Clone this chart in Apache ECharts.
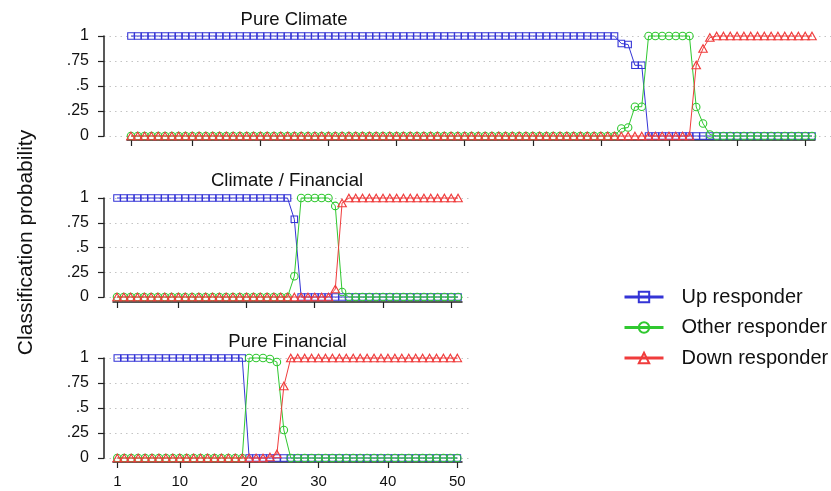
<!DOCTYPE html>
<html><head><meta charset="utf-8">
<script src="https://cdn.jsdelivr.net/npm/echarts@6/dist/echarts.min.js"></script>
<style>html,body{margin:0;padding:0;background:#fff}#c{width:831px;height:491px}</style>
</head><body><div id="c"></div>
<script>
const panelTitles = ['Pure Climate', 'Climate / Financial', 'Pure Financial'];
const seriesNames = ['Up responder', 'Other responder', 'Down responder'];
const yAxisTitle = 'Classification probability';
const yTickValues = [0, 0.25, 0.5, 0.75, 1];
const yTickLabels = ['0', '.25', '.5', '.75', '1'];
const xTicksTop = [1, 10, 20, 30, 40, 50, 60, 70, 80, 90, 100];
const xTicksLower = [1, 10, 20, 30, 40, 50];

const xClimate = [1,2,3,4,5,6,7,8,9,10,11,12,13,14,15,16,17,18,19,20,21,22,23,24,25,26,27,28,29,30,31,32,33,34,35,36,37,38,39,40,41,42,43,44,45,46,47,48,49,50,51,52,53,54,55,56,57,58,59,60,61,62,63,64,65,66,67,68,69,70,71,72,73,74,75,76,77,78,79,80,81,82,83,84,85,86,87,88,89,90,91,92,93,94,95,96,97,98,99,100,101];
const climateUp = [1,1,1,1,1,1,1,1,1,1,1,1,1,1,1,1,1,1,1,1,1,1,1,1,1,1,1,1,1,1,1,1,1,1,1,1,1,1,1,1,1,1,1,1,1,1,1,1,1,1,1,1,1,1,1,1,1,1,1,1,1,1,1,1,1,1,1,1,1,1,1,1,0.925,0.915,0.707,0.707,0,0,0,0,0,0,0,0,0,0,0,0,0,0,0,0,0,0,0,0,0,0,0,0,0];
const climateOther = [0,0,0,0,0,0,0,0,0,0,0,0,0,0,0,0,0,0,0,0,0,0,0,0,0,0,0,0,0,0,0,0,0,0,0,0,0,0,0,0,0,0,0,0,0,0,0,0,0,0,0,0,0,0,0,0,0,0,0,0,0,0,0,0,0,0,0,0,0,0,0,0,0.075,0.085,0.293,0.293,1,1,1,1,1,1,1,0.29,0.125,0.015,0,0,0,0,0,0,0,0,0,0,0,0,0,0,0];
const climateDown = [0,0,0,0,0,0,0,0,0,0,0,0,0,0,0,0,0,0,0,0,0,0,0,0,0,0,0,0,0,0,0,0,0,0,0,0,0,0,0,0,0,0,0,0,0,0,0,0,0,0,0,0,0,0,0,0,0,0,0,0,0,0,0,0,0,0,0,0,0,0,0,0,0,0,0,0,0,0,0,0,0,0,0,0.71,0.875,0.985,1,1,1,1,1,1,1,1,1,1,1,1,1,1,1];

const xMixed = [1,2,3,4,5,6,7,8,9,10,11,12,13,14,15,16,17,18,19,20,21,22,23,24,25,26,27,28,29,30,31,32,33,34,35,36,37,38,39,40,41,42,43,44,45,46,47,48,49,50,51];
const mixedUp = [1,1,1,1,1,1,1,1,1,1,1,1,1,1,1,1,1,1,1,1,1,1,1,1,1,1,0.785,0,0,0,0,0,0,0,0,0,0,0,0,0,0,0,0,0,0,0,0,0,0,0,0];
const mixedOther = [0,0,0,0,0,0,0,0,0,0,0,0,0,0,0,0,0,0,0,0,0,0,0,0,0,0,0.21,1,1,1,1,1,0.92,0.05,0,0,0,0,0,0,0,0,0,0,0,0,0,0,0,0,0];
const mixedDown = [0,0,0,0,0,0,0,0,0,0,0,0,0,0,0,0,0,0,0,0,0,0,0,0,0,0,0,0,0,0,0,0,0.08,0.95,1,1,1,1,1,1,1,1,1,1,1,1,1,1,1,1,1];

const xFinancial = [1,2,3,4,5,6,7,8,9,10,11,12,13,14,15,16,17,18,19,20,21,22,23,24,25,26,27,28,29,30,31,32,33,34,35,36,37,38,39,40,41,42,43,44,45,46,47,48,49,50];
const financialUp = [1,1,1,1,1,1,1,1,1,1,1,1,1,1,1,1,1,1,1,0,0,0,0,0,0,0,0,0,0,0,0,0,0,0,0,0,0,0,0,0,0,0,0,0,0,0,0,0,0,0];
const financialOther = [0,0,0,0,0,0,0,0,0,0,0,0,0,0,0,0,0,0,0,1,1,1,0.99,0.96,0.28,0,0,0,0,0,0,0,0,0,0,0,0,0,0,0,0,0,0,0,0,0,0,0,0,0];
const financialDown = [0,0,0,0,0,0,0,0,0,0,0,0,0,0,0,0,0,0,0,0,0,0,0.01,0.04,0.72,1,1,1,1,1,1,1,1,1,1,1,1,1,1,1,1,1,1,1,1,1,1,1,1,1];

const FONT = '"Liberation Sans", Arial, Helvetica, sans-serif';
const colors = ['#3434d6', '#30c830', '#f03c3c'];
const symbols = ['rect', 'circle', 'triangle'];
const symbolSizes = [6.5, 7.5, [8.5, 7.5]];
const axisColor = '#222';

const panels = [
  { title: panelTitles[0], titleX: 294, titleY: 19.5, xs: xClimate, ys: [climateUp, climateOther, climateDown],
    wide: { left: 104, top: 36, width: 727, height: 100 }, wMin: -2.96, wMax: 103.79,
    line: { left: 127, top: 36, width: 688, height: 100 }, lMin: 0.413, lMax: 101.44, offset: 4,
    ticks: xTicksTop, labels: false },
  { title: panelTitles[1], titleX: 287, titleY: 181, xs: xMixed, ys: [mixedUp, mixedOther, mixedDown],
    wide: { left: 104, top: 198, width: 367, height: 99 }, wMin: -0.906, wMax: 52.9,
    line: { left: 113, top: 198, width: 349, height: 99 }, lMin: 0.413, lMax: 51.6, offset: 5,
    ticks: xTicksLower, labels: false },
  { title: panelTitles[2], titleX: 287.5, titleY: 341.5, xs: xFinancial, ys: [financialUp, financialOther, financialDown],
    wide: { left: 104, top: 358, width: 367, height: 100 }, wMin: -0.917, wMax: 51.97,
    line: { left: 113, top: 358, width: 349, height: 100 }, lMin: 0.38, lMax: 50.67, offset: 4,
    ticks: xTicksLower, labels: true }
];

const grid = [], xAxis = [], yAxis = [], series = [], graphic = [];
panels.forEach((p, i) => {
  const gw = 2 * i, gl = 2 * i + 1;
  grid.push(Object.assign({ containLabel: false }, p.wide));
  grid.push(Object.assign({ containLabel: false }, p.line));
  xAxis.push({ gridIndex: gw, type: 'value', min: p.wMin, max: p.wMax, show: false });
  xAxis.push({ gridIndex: gl, type: 'value', min: p.lMin, max: p.lMax, position: 'bottom', offset: p.offset,
    axisLine: { show: true, onZero: false, lineStyle: { color: axisColor, width: 1.5 } },
    axisTick: { show: true, customValues: p.ticks, length: 6, lineStyle: { color: axisColor, width: 1.2 } },
    axisLabel: { show: p.labels, customValues: p.ticks, fontSize: 15, margin: 12, color: '#111', fontFamily: FONT },
    splitLine: { show: false } });
  yAxis.push({ gridIndex: gw, type: 'value', min: 0, max: 1, interval: 0.25,
    axisLine: { show: true, onZero: false, lineStyle: { color: axisColor, width: 1.5 } },
    axisTick: { show: true, length: 6, lineStyle: { color: axisColor, width: 1.2 } },
    axisLabel: { fontSize: 16, margin: 15, color: '#111', fontFamily: FONT,
      formatter: v => yTickLabels[yTickValues.indexOf(Math.round(v * 100) / 100)] },
    splitLine: { show: true, lineStyle: { type: [1.5, 4], color: '#c4c4c4', width: 1 } } });
  yAxis.push({ gridIndex: gl, type: 'value', min: 0, max: 1, show: false });
  p.ys.forEach((vals, k) => {
    series.push({
      type: 'line', name: seriesNames[k], xAxisIndex: gw, yAxisIndex: gw,
      data: p.xs.map((x, j) => [x, vals[j]]),
      symbol: symbols[k], symbolSize: symbolSizes[k], showAllSymbol: true,
      lineStyle: { color: colors[k], width: 1 },
      itemStyle: { color: 'rgba(255,255,255,0)', borderColor: colors[k], borderWidth: 1.1 },
      emphasis: { disabled: true }, animation: false, clip: false, z: 2 + k
    });
  });
  graphic.push({ type: 'text', x: p.titleX, y: p.titleY,
    style: { text: p.title, fontSize: 18.5, fontFamily: FONT, fill: '#111',
      align: 'center', verticalAlign: 'middle', textAlign: 'center', textVerticalAlign: 'middle' } });
});
graphic.push({ type: 'text', x: 26, y: 242.5, rotation: Math.PI / 2,
  style: { text: yAxisTitle, fontSize: 21, fontFamily: FONT, fill: '#111',
    align: 'center', verticalAlign: 'middle', textAlign: 'center', textVerticalAlign: 'middle' } });

const chart = echarts.init(document.getElementById('c'), null, { renderer: 'canvas' });
chart.setOption({
  animation: false,
  backgroundColor: '#fff',
  textStyle: { fontFamily: FONT },
  grid, xAxis, yAxis, series, graphic,
  legend: {
    data: seriesNames, orient: 'vertical', left: 618, top: 282,
    itemWidth: 39, itemHeight: 13, itemGap: 10.5, selectedMode: false,
    textStyle: { fontSize: 20, color: '#111', fontFamily: FONT, padding: [0, 0, 0, 13], lineHeight: 20 },
    lineStyle: { width: 3 }, itemStyle: { borderWidth: 2 }
  }
});
</script></body></html>
